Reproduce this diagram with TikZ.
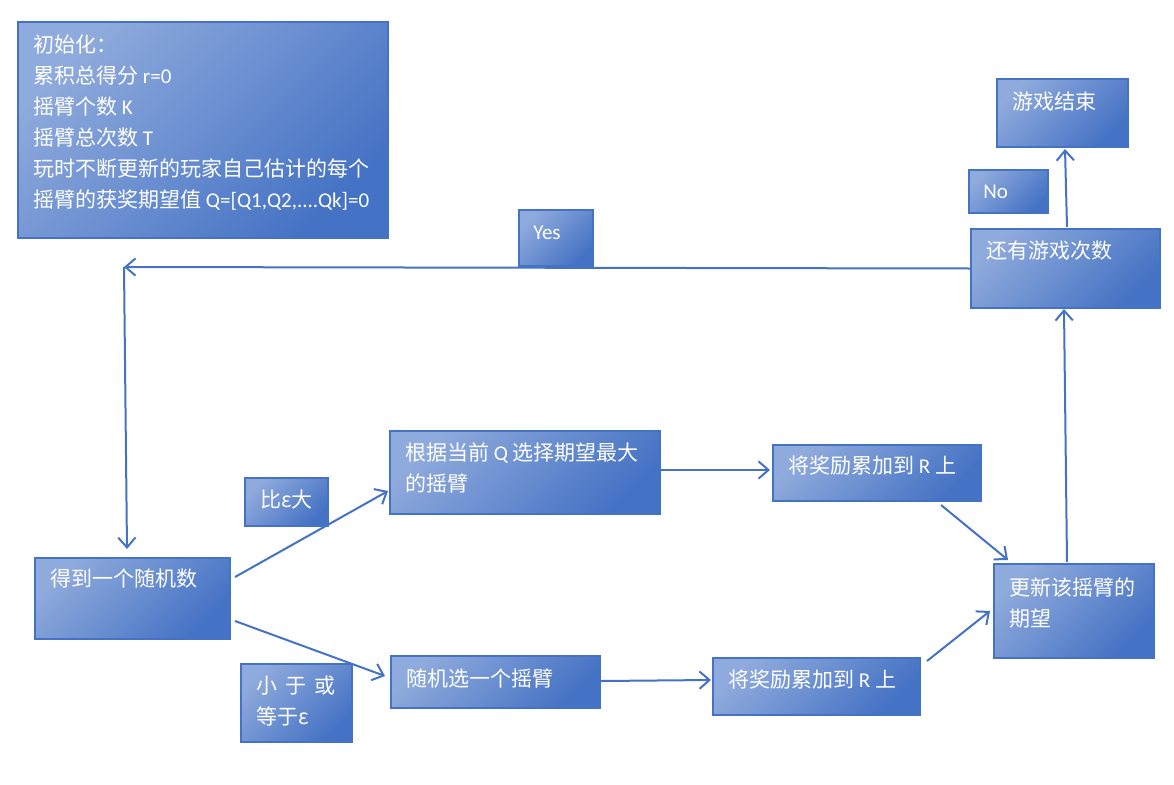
\documentclass[tikz,border=0pt]{standalone}
\usepackage{fontspec}
\usepackage{xcolor}
\newfontfamily\cjk{Noto Sans CJK SC}
\newfontfamily\lat{Carlito}
\usetikzlibrary{arrows.meta,calc}
\definecolor{boxblue}{HTML}{4472C4}
\definecolor{boxlight}{HTML}{8FAADC}
\tikzset{
    size/.style 2 args={minimum width=#1*0.75pt, minimum height=#2*0.75pt},
    box/.style={draw=boxblue, line width=1.5pt, top color=boxlight, bottom color=boxblue,
        shading angle=45, anchor=north west, inner sep=0pt},
    txt/.style={text=white, font=\cjk\fontsize{15.75}{23.25}\selectfont, align=left, inner sep=0pt},
    arr/.style={draw=boxblue, line width=1.5pt, -{Straight Barb[length=7.5pt,width=13pt]}}
}
\begin{document}
\begin{tikzpicture}[x=0.75pt, y=-0.75pt]
    \useasboundingbox (0,0) rectangle (1174,785);
    % boxes
    \node[box, size={370}{216}] (init) at (17,21) {};
    \node[box, size={74}{56}] (yes) at (518,209) {};
    \node[box, size={79}{43}] (no) at (968,169) {};
    \node[box, size={131}{68}] (over) at (996,78) {};
    \node[box, size={189}{79}] (still) at (970,228) {};
    \node[box, size={195}{81}] (rand) at (34,557) {};
    \node[box, size={83}{48}] (bigger) at (244,477) {};
    \node[box, size={111}{78}] (smaller) at (240,663) {};
    \node[box, size={270}{83}] (greedy) at (389,430) {};
    \node[box, size={209}{52}] (explore) at (390,655) {};
    \node[box, size={208}{56}] (rewardA) at (772,444) {};
    \node[box, size={207}{57}] (rewardB) at (712,657) {};
    \node[box, size={160}{94}] (update) at (993,563) {};
    % texts
    \node[txt, anchor=north west] (init-t) at (33,35) {初始化：\\累积总得分 {\lat r=0}\\摇臂个数 {\lat K}\\摇臂总次数 {\lat T}\\玩时不断更新的玩家自己估计的每个\\摇臂的获奖期望值 {\lat Q=[Q1,Q2,....Qk]=0}};
    \node[txt, anchor=west, font=\lat\fontsize{15.75}{23.25}\selectfont] (yes-t) at (533,233) {Yes};
    \node[txt, anchor=west, font=\lat\fontsize{15.75}{23.25}\selectfont] (no-t) at (983,192) {No};
    \node[txt, anchor=west] (over-t) at (1012,102) {游戏结束};
    \node[txt, anchor=west] (still-t) at (986,251) {还有游戏次数};
    \node[txt, anchor=west] (rand-t) at (50,579) {得到一个随机数};
    \node[txt, anchor=west] (bigger-t) at (260,500) {比ε大};
    \node[txt, anchor=north west] (smaller-t) at (256,676) {小\hspace{6pt}于\hspace{6pt}或\\等于ε};
    \node[txt, anchor=north west] (greedy-t) at (405,442) {根据当前 {\lat Q} 选择期望最大\\的摇臂};
    \node[txt, anchor=west] (explore-t) at (406,678) {随机选一个摇臂};
    \node[txt, anchor=west] (rewardA-t) at (788,466) {将奖励累加到 {\lat R} 上};
    \node[txt, anchor=west] (rewardB-t) at (728,680) {将奖励累加到 {\lat R} 上};
    \node[txt, anchor=north west] (update-t) at (1009,577) {更新该摇臂的\\期望};
    % arrows
    \coordinate (turn) at (124,267);
    \draw[arr] (still.west) -- (turn);
    \draw[arr] (turn) -- ([shift={(-5.5,-8)}]rand.north);
    \draw[arr] ([shift={(4,-21.5)}]rand.east) -- ([shift={(-1,18.5)}]greedy.west);
    \draw[arr] ([shift={(4,22.5)}]rand.east) -- ([shift={(-5,-6)}]explore.west);
    \draw[arr] ([shift={(0,-2.5)}]greedy.east) -- ([shift={(-2,-3)}]rewardA.west);
    \draw[arr] ([shift={(0,-1)}]explore.east) -- ([shift={(-1,-6.5)}]rewardB.west);
    \draw[arr] ([shift={(64,3)}]rewardA.south) -- ([shift={(15,-3)}]update.north west);
    \draw[arr] ([shift={(6,-25.5)}]rewardB.east) -- ([shift={(-3,0)}]update.west);
    \draw[arr] ([shift={(-7,-1)}]update.north) -- ([shift={(-1.5,0)}]still.south);
    \draw[arr] ([shift={(1.5,-1)}]still.north) -- ([shift={(2.5,1)}]over.south);
\end{tikzpicture}
\end{document}
